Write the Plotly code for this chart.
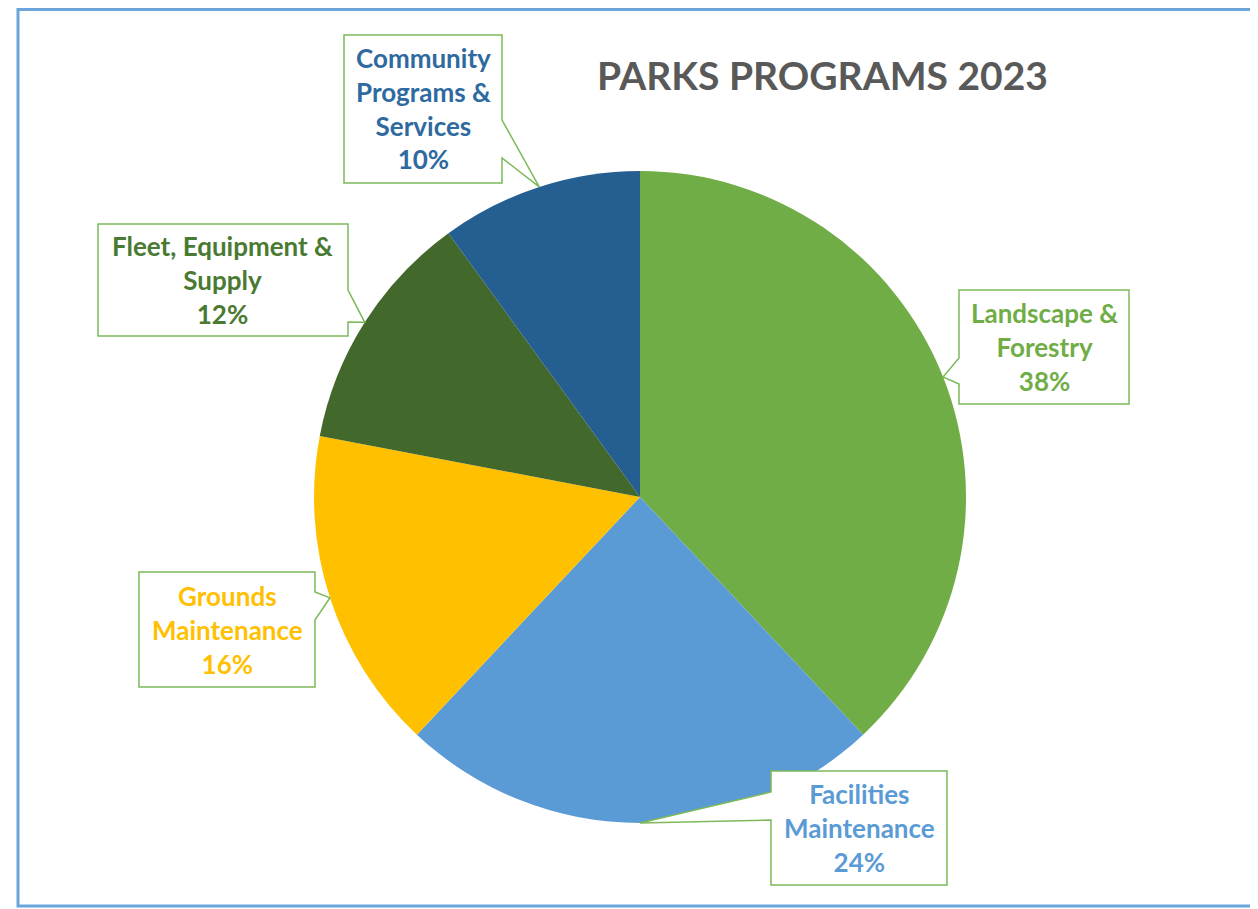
import math
import plotly.graph_objects as go

# page has an 8px body margin, so the figure is drawn 8px in from the window edge
OFF = 8
W, H = 1258 - OFF, 909 - OFF

# -------------------------------------------------
# Data
# -------------------------------------------------
programs = [
    "Landscape & Forestry",
    "Facilities Maintenance",
    "Grounds Maintenance",
    "Fleet, Equipment & Supply",
    "Community Programs & Services",
]
shares = [38, 24, 16, 12, 10]
label_lines = [
    ["Landscape &", "Forestry"],
    ["Facilities", "Maintenance"],
    ["Grounds", "Maintenance"],
    ["Fleet, Equipment &", "Supply"],
    ["Community", "Programs &", "Services"],
]
slice_colors = ["#70AD47", "#5B9BD5", "#FFC000", "#43682B", "#255E91"]
text_colors = ["#70AD47", "#5B9BD5", "#FFC000", "#4A7A32", "#2E6AA0"]

# callout boxes in window pixels: x0, y0, x1, y1, wedge side, wedge base y0, y1
boxes = [
    (959, 290, 1129, 404, "left", 358, 384),
    (771, 771, 947, 885, "left", 792, 820),
    (139, 572, 315, 687, "right", 592, 620),
    (98, 224, 348, 336, "right", 290, 322),
    (344, 35, 502, 183, "right", 120, 158),
]

# pie geometry (window pixels)
CX, CY, R = 640, 497, 326


def px(x):
    return (x - OFF) / W


def py(y):
    return 1 - (y - OFF) / H


fig = go.Figure()

fig.add_trace(
    go.Pie(
        labels=programs,
        values=shares,
        sort=False,
        direction="clockwise",
        rotation=0,
        marker=dict(colors=slice_colors, line=dict(width=0)),
        textinfo="none",
        hoverinfo="label+percent",
        domain=dict(x=[px(CX - R), px(CX + R)], y=[py(CY + R), py(CY - R)]),
        showlegend=False,
    )
)

# -------------------------------------------------
# Callouts
# -------------------------------------------------
total = sum(shares)
shapes = []
annotations = []
cum = 0
for name, v, lines, col, box in zip(programs, shares, label_lines, text_colors, boxes):
    theta = 2 * math.pi * (cum + v / 2) / total
    cum += v
    tx = CX + R * math.sin(theta)
    ty = CY - R * math.cos(theta)

    x0, y0, x1, y1, side, b0, b1 = box
    if side == "right":
        pts = [(x0, y0), (x1, y0), (x1, b0), (tx, ty), (x1, b1), (x1, y1), (x0, y1)]
    else:
        pts = [(x0, y0), (x1, y0), (x1, y1), (x0, y1), (x0, b1), (tx, ty), (x0, b0)]
    path = "M " + " L ".join(f"{px(a):.5f},{py(b):.5f}" for a, b in pts) + " Z"
    shapes.append(
        dict(
            type="path",
            xref="paper",
            yref="paper",
            path=path,
            fillcolor="white",
            line=dict(color="#7DB95B", width=1.5),
            layer="above",
        )
    )

    pct = round(100 * v / total)
    text = "<br>".join(lines + [f"{pct}%"])
    annotations.append(
        dict(
            x=px((x0 + x1) / 2),
            y=py((y0 + y1) / 2),
            xref="paper",
            yref="paper",
            xanchor="center",
            yanchor="middle",
            text=f"<b>{text}</b>",
            showarrow=False,
            font=dict(family="Lato", size=26, color=col),
        )
    )

# title
annotations.append(
    dict(
        x=px(822),
        y=py(75),
        xref="paper",
        yref="paper",
        xanchor="center",
        yanchor="middle",
        text="<b>PARKS PROGRAMS 2023</b>",
        showarrow=False,
        font=dict(family="Lato", size=39, color="#595959"),
    )
)

# outer chart border
shapes.append(
    dict(
        type="rect",
        xref="paper",
        yref="paper",
        x0=px(18),
        y0=py(906),
        x1=px(1275),
        y1=py(9.5),
        line=dict(color="#6AA6DB", width=3),
        fillcolor="rgba(0,0,0,0)",
        layer="below",
    )
)

fig.update_layout(
    width=W,
    height=H,
    margin=dict(l=0, r=0, t=0, b=0),
    paper_bgcolor="white",
    plot_bgcolor="white",
    shapes=shapes,
    annotations=annotations,
    showlegend=False,
)

fig.write_html("out.html")
